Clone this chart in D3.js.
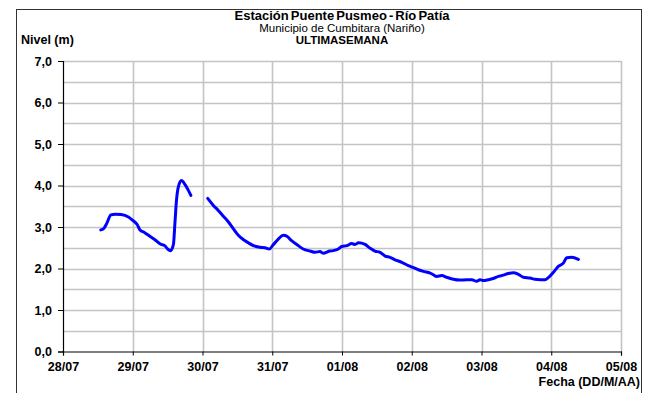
<!DOCTYPE html>
<html>
<head>
<meta charset="utf-8">
<script src="https://cdn.jsdelivr.net/npm/d3@7"></script>
<style>
  html, body { margin: 0; padding: 0; background: #fff; }
  svg { display: block; font-family: "Liberation Sans", Arial, sans-serif; }
</style>
</head>
<body>
<svg id="chart" width="652" height="393"></svg>
<script>
// Hourly-ish readings of the river level (m); null marks the gap in the record
const fechas = [
  "28/07 13:00","28/07 14:00","28/07 15:00","28/07 16:30","28/07 18:00","28/07 20:00","28/07 22:30",
  "29/07 00:00","29/07 01:30","29/07 02:30","29/07 04:00","29/07 06:00","29/07 07:30","29/07 09:30",
  "29/07 11:00","29/07 12:00","29/07 13:00","29/07 14:00","29/07 14:30","29/07 15:00","29/07 15:40",
  "29/07 16:45","29/07 18:00","29/07 19:00","29/07 20:00",
  "29/07 23:00",
  "30/07 01:48","30/07 03:45","30/07 05:25","30/07 07:10","30/07 08:55","30/07 10:35","30/07 12:20",
  "30/07 14:00","30/07 15:45","30/07 17:30","30/07 19:45","30/07 21:30","30/07 23:00",
  "31/07 00:20","31/07 02:05","31/07 03:50","31/07 05:10","31/07 06:40","31/07 08:25","31/07 10:40",
  "31/07 13:00","31/07 14:45","31/07 16:25","31/07 17:30","31/07 19:50","31/07 21:00","31/07 22:45",
  "31/07 23:55",
  "01/08 01:40","01/08 03:20","01/08 04:30","01/08 05:40","01/08 07:55","01/08 09:40","01/08 11:20",
  "01/08 13:05","01/08 14:50","01/08 16:30","01/08 18:15","01/08 20:35","01/08 22:50",
  "02/08 00:35","02/08 02:15","02/08 04:00","02/08 06:20","02/08 07:25","02/08 08:35","02/08 10:20",
  "02/08 12:00","02/08 14:20","02/08 16:35","02/08 18:55","02/08 20:40","02/08 22:20","02/08 23:30",
  "03/08 00:40","03/08 02:20","03/08 04:05","03/08 05:50","03/08 07:30","03/08 09:15","03/08 11:00",
  "03/08 12:40","03/08 14:25","03/08 16:40","03/08 18:25","03/08 20:10","03/08 21:50","03/08 23:00",
  "04/08 00:45","04/08 02:25","04/08 04:10","04/08 05:20","04/08 07:00","04/08 09:20"
];
const niveles = [
  2.93,2.96,3.08,3.29,3.31,3.30,3.24,
  3.16,3.06,2.93,2.87,2.77,2.70,2.59,
  2.55,2.47,2.43,2.58,3.08,3.60,3.96,
  4.12,4.02,3.90,3.76,
  null,
  3.69,3.52,3.40,3.26,3.12,2.96,2.80,
  2.70,2.62,2.55,2.51,2.50,2.47,
  2.57,2.71,2.80,2.77,2.67,2.58,2.47,
  2.42,2.39,2.41,2.37,2.42,2.43,2.47,
  2.53,
  2.55,2.60,2.58,2.62,2.58,2.49,2.42,
  2.39,2.30,2.27,2.21,2.15,2.07,
  2.02,1.97,1.93,1.89,1.85,1.81,1.83,
  1.79,1.74,1.72,1.73,1.73,1.69,1.73,
  1.71,1.73,1.76,1.81,1.84,1.88,1.90,
  1.86,1.79,1.77,1.74,1.73,1.73,1.78,
  1.91,2.05,2.13,2.26,2.27,2.22
];
const xTicks = ["28/07","29/07","30/07","31/07","01/08","02/08","03/08","04/08","05/08"];
const yTicks = [0,1,2,3,4,5,6,7];
const yGrid = [0.5,1,1.5,2,2.5,3,3.5,4,4.5,5,5.5,6,6.5,7];
const titulos = ["Estación Puente Pusmeo - Río Patía","Municipio de Cumbitara (Nariño)","ULTIMASEMANA"];

const parse = d3.timeParse("%d/%m %H:%M");
const parseDay = d3.timeParse("%d/%m");
const data = fechas.map((f, i) => ({ t: parse(f), v: niveles[i] }));
const tickDates = xTicks.map(parseDay);

const svg = d3.select("#chart");
const m = { left: 63, right: 621, top: 61, bottom: 351.5 };
const FONT = "Liberation Sans, Arial, sans-serif";

const x = d3.scaleTime().domain([tickDates[0], tickDates[tickDates.length - 1]]).range([m.left, m.right]);
const y = d3.scaleLinear().domain([0, 7]).range([m.bottom, m.top]);

// outer frame
svg.append("rect").attr("x", 16.5).attr("y", 9.5).attr("width", 625).attr("height", 400)
  .attr("fill", "none").attr("stroke", "#333").attr("stroke-width", 1);

// horizontal grid
svg.append("g").selectAll("line").data(yGrid).join("line")
  .attr("x1", m.left).attr("x2", m.right)
  .attr("y1", d => Math.round(y(d)) + 0.5).attr("y2", d => Math.round(y(d)) + 0.5)
  .attr("stroke", "#c4c4c4").attr("stroke-width", 1.6);

// vertical grid
svg.append("g").selectAll("line").data(tickDates.slice(1)).join("line")
  .attr("x1", d => Math.round(x(d)) + 0.5).attr("x2", d => Math.round(x(d)) + 0.5)
  .attr("y1", m.top).attr("y2", m.bottom)
  .attr("stroke", "#c4c4c4").attr("stroke-width", 1.6);

// axes
const yAxis = d3.axisLeft(y).tickValues(yTicks).tickSize(5).tickPadding(6)
  .tickFormat(d => d3.format(".1f")(d).replace(".", ","));
const gy = svg.append("g").attr("transform", `translate(${m.left},0)`).call(yAxis);
gy.select(".domain").attr("stroke", "#000").attr("stroke-width", 1.2);
gy.selectAll(".tick line").attr("stroke", "#000");
gy.selectAll("text").attr("font-size", 12.5).attr("font-weight", "bold").attr("fill", "#000")
  .attr("font-family", FONT);

const xAxis = d3.axisBottom(x).tickValues(tickDates).tickSize(4).tickPadding(7)
  .tickFormat((d, i) => xTicks[i]);
const gx = svg.append("g").attr("transform", `translate(0,${m.bottom})`).call(xAxis);
gx.select(".domain").attr("stroke", "#000").attr("stroke-width", 1.2);
gx.selectAll(".tick line").attr("stroke", "#000");
gx.selectAll("text").attr("font-size", 12.5).attr("font-weight", "bold").attr("fill", "#000")
  .attr("font-family", FONT);

// level series
const line = d3.line().defined(d => d.v !== null).x(d => x(d.t)).y(d => y(d.v)).curve(d3.curveMonotoneX);
svg.append("path").datum(data).attr("d", line)
  .attr("fill", "none").attr("stroke", "#0000ff").attr("stroke-width", 3)
  .attr("stroke-linejoin", "round").attr("stroke-linecap", "round");

// titles
const cx = (m.left + m.right) / 2;
svg.append("text").attr("x", cx).attr("y", 20).attr("text-anchor", "middle")
  .attr("font-size", 13).attr("font-weight", "bold").attr("word-spacing", -1.5).text(titulos[0]);
svg.append("text").attr("x", cx).attr("y", 32).attr("text-anchor", "middle")
  .attr("font-size", 11.5).text(titulos[1]);
svg.append("text").attr("x", cx).attr("y", 44).attr("text-anchor", "middle")
  .attr("font-size", 11.5).attr("font-weight", "bold").text(titulos[2]);

svg.append("text").attr("x", 21).attr("y", 44)
  .attr("font-size", 12.5).attr("font-weight", "bold").text("Nivel (m)");
svg.append("text").attr("x", 640).attr("y", 386).attr("text-anchor", "end")
  .attr("font-size", 12.5).attr("font-weight", "bold").text("Fecha (DD/M/AA)");
</script>
</body>
</html>
